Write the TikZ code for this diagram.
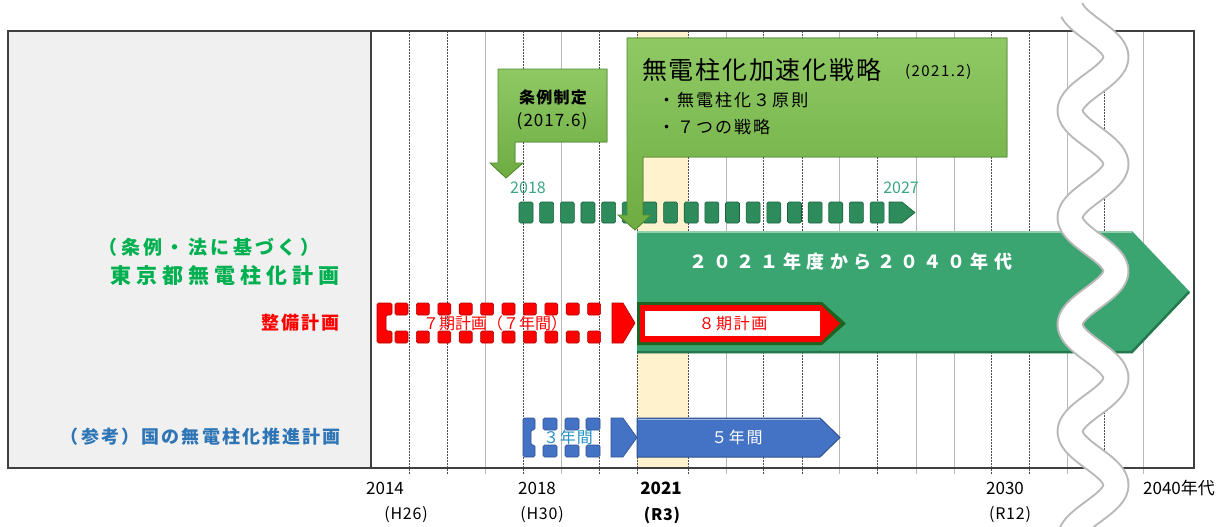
\documentclass[tikz,border=0pt]{standalone}
\usepackage{fontspec}
\setmainfont{Noto Sans CJK JP}
\newcommand\fsz[1]{\fontsize{#1}{#1}\selectfont}
\newcommand\lsp[1]{\addfontfeature{LetterSpace=#1}}
\definecolor{jgreen}{HTML}{00B050}
\definecolor{jred}{HTML}{FF0000}
\definecolor{jblue}{HTML}{2E75B6}
\definecolor{bigG}{HTML}{3BA571}
\definecolor{bigGd}{HTML}{23784D}
\definecolor{dashG}{HTML}{2E8B5C}
\definecolor{dashGd}{HTML}{1B5E3B}
\definecolor{calG}{HTML}{6EAC42}
\definecolor{calGl}{HTML}{8FC964}
\definecolor{calGd}{HTML}{4F8A2C}
\definecolor{barB}{HTML}{4472C4}
\definecolor{barBd}{HTML}{2F528F}
\definecolor{darkR}{HTML}{B00000}
\definecolor{olG}{HTML}{1E6420}
\definecolor{hl}{HTML}{FFF2CC}
\definecolor{panel}{HTML}{F0F0F0}
\definecolor{frameC}{HTML}{404040}
\definecolor{yrG}{HTML}{3AA57F}
\tikzset{
 txt/.style={inner sep=0pt, outer sep=0pt},
 gridD/.style={draw=black!70, line width=0.9pt, dash pattern=on 2pt off 1pt},
 gridL/.style={draw=black!28, line width=0.8pt},
 rblk/.style={fill=jred, draw=darkR, line width=0.6pt, rounded corners=1.5pt},
 bblk/.style={fill=barB, draw=barBd, line width=0.6pt, rounded corners=1.5pt},
 gblk/.style={fill=dashG, draw=dashGd, line width=0.6pt, rounded corners=1.5pt},
 callout/.style={top color=calGl, bottom color=calG, draw=calGd, line width=0.8pt},
 yrlbl/.style={txt, font=\fsz{17}},
 wave/.style={line join=round},
}
\begin{document}
\begin{tikzpicture}[x=1pt,y=-1pt]
\useasboundingbox (0,0) rectangle (1228,527);
% left panel and grid
\filldraw[fill=panel, draw=frameC, line width=1.2pt] (8,31) rectangle (371,468);
\fill[hl] (637,31) rectangle (688,468);
\foreach \x in {409,447,523,599,637,688,763,802,877,991,1029,1104} \draw[gridD] (\x,31) -- (\x,474);
\foreach \x in {485,561,726,839,916,954,1067,1143} \draw[gridL] (\x,31) -- (\x,474);
\draw[frameC, line width=1.2pt] (371,31) rectangle (1194,468);

% left labels
\node[txt, text=jgreen, font=\bfseries\fsz{19}\lsp{18}] (l1) at (209,247) {（条例・法に基づく）};
\node[txt, anchor=east, text=jgreen, font=\bfseries\fsz{21}\lsp{24}] (l2) at (340,275) {東京都無電柱化計画};
\node[txt, anchor=east, text=jred, font=\bfseries\fsz{18}\lsp{12}] (l3) at (340,323) {整備計画};
\node[txt, anchor=east, text=jblue, font=\bfseries\fsz{18}\lsp{12}] (l4) at (341,437) {（参考）国の無電柱化推進計画};

% bottom year labels
\node[yrlbl] (y14) at (385,488) {2014};
\node[yrlbl] (y18) at (537,488) {2018};
\node[yrlbl, font=\bfseries\fsz{17}] (y21) at (661,488) {2021};
\node[yrlbl] (y30) at (1005,488) {2030};
\node[yrlbl] (y40) at (1179,488) {2040年代};
\node[yrlbl, font=\fsz{16}\lsp{5}] (e14) at (406,515) {(H26)};
\node[yrlbl, font=\fsz{16}\lsp{5}] (e18) at (542,515) {(H30)};
\node[yrlbl, font=\bfseries\fsz{16}\lsp{5}] (e21) at (662,515) {(R3)};
\node[yrlbl, font=\fsz{16}\lsp{5}] (e30) at (1010,515) {(R12)};

% big green arrow
\fill[bigG] (637,231) -- (1132,231) -- (1190,292) -- (1132,353) -- (637,353) -- cycle;
\draw[bigGd, line width=2.5pt] (637,352) -- (1132,352) -- (1189,292);
\draw[bigG!55!white, line width=1.5pt] (637,232) -- (1132,232);
\node[txt, text=white, font=\bfseries\fsz{18}\lsp{30}] (t21) at (851,262) {２０２１年度から２０４０年代};

% dashed green arrow 2018-2027
\foreach \i in {0,...,17} \draw[gblk] ({519+20.65*\i},202) rectangle ++(14,21);
\filldraw[gblk, rounded corners=0pt] (889,202) -- (902,202) -- (915,212.5) -- (902,223) -- (889,223) -- cycle;
\node[txt, text=yrG, font=\fsz{16}] (g18) at (528,188) {2018};
\node[txt, text=yrG, font=\fsz{16}] (g27) at (901,188) {2027};

% red hollow dashed arrow (7 period)
\foreach \i in {0,...,9} {
  \draw[rblk] ({395+21.4*\i},303) rectangle ++(13,12);
  \draw[rblk] ({395+21.4*\i},331) rectangle ++(13,12);
}
\filldraw[rblk] (377,303) -- (392,303) -- (392,315) -- (386,315) -- (386,331) -- (392,331) -- (392,343) -- (377,343) -- cycle;
\filldraw[rblk, rounded corners=0pt] (612,303) -- (623,303) -- (635,323) -- (623,343) -- (612,343) -- cycle;
\node[txt, text=jred, font=\fsz{16}] (p7) at (495,323) {７期計画（７年間）};

% 8 period arrow
\fill[olG] (637,302) -- (822,302) -- (846,323.5) -- (822,345) -- (637,345) -- cycle;
\fill[jred] (640,305) -- (821,305) -- (840,323.5) -- (821,342) -- (640,342) -- cycle;
\fill[white] (645,311) rectangle (820,336);
\node[txt, text=jred, font=\fsz{16}\lsp{10}] (p8) at (733,323) {８期計画};

% blue hollow dashed arrow (3 years)
\filldraw[bblk] (523,418) -- (535,418) -- (535,430) -- (531,430) -- (531,445) -- (535,445) -- (535,457) -- (523,457) -- cycle;
\foreach \x in {543,565,586} {
  \draw[bblk] (\x,418) rectangle ++(14,12);
  \draw[bblk] (\x,445) rectangle ++(14,12);
}
\filldraw[bblk, rounded corners=0pt] (611,418) -- (623,418) -- (637,437.5) -- (623,457) -- (611,457) -- cycle;
\node[txt, text=jblue!80!cyan, font=\fsz{16}\lsp{6}] (b3) at (568,437) {３年間};

% blue 5 years arrow
\filldraw[fill=barB, draw=barBd, line width=1pt] (637,418) -- (820,418) -- (840,437.5) -- (820,457) -- (637,457) -- cycle;
\draw[barB!50!white, line width=1pt] (638,419.5) -- (820,419.5);
\node[txt, text=white, font=\fsz{16}\lsp{10}] (b5) at (737,437) {５年間};

% callout: ordinance
\filldraw[callout] (498,69) -- (607,69) -- (607,142) -- (515,142) -- (515,163) -- (523,163) -- (506,178) -- (490,163) -- (498,163) -- cycle;
\node[txt, font=\bfseries\fsz{16}\lsp{8}] (c1a) at (553,97) {条例制定};
\node[txt, font=\fsz{17}\lsp{6}] (c1b) at (552,121) {(2017.6)};

% callout: strategy
\filldraw[callout] (627,38) -- (1007,38) -- (1007,157) -- (643,157) -- (643,215) -- (651,215) -- (635,230) -- (618,215) -- (627,215) -- cycle;
\node[txt, anchor=west, font=\fsz{25}\lsp{7}] (c2a) at (642,70) {無電柱化加速化戦略};
\node[txt, anchor=west, font=\fsz{15}\lsp{10}] (c2b) at (905,72) {(2021.2)};
\node[txt, anchor=west, font=\fsz{17}\lsp{12}] (c2c) at (658,100) {・無電柱化３原則};
\node[txt, anchor=west, font=\fsz{17}\lsp{12}] (c2d) at (658,127) {・７つの戦略};

% wavy break
\begin{scope}
\clip (0,0) rectangle (1228,527);
\draw[wave, black!28, line width=27pt] plot[smooth, domain=10:545, samples=90, variable=\t] ({1093+23*cos(((\t-57)/107)*360)},\t);
\draw[wave, white, line width=23pt] plot[smooth, domain=9:546, samples=90, variable=\t] ({1093+23*cos(((\t-57)/107)*360)},\t);
\end{scope}
\end{tikzpicture}
\end{document}
